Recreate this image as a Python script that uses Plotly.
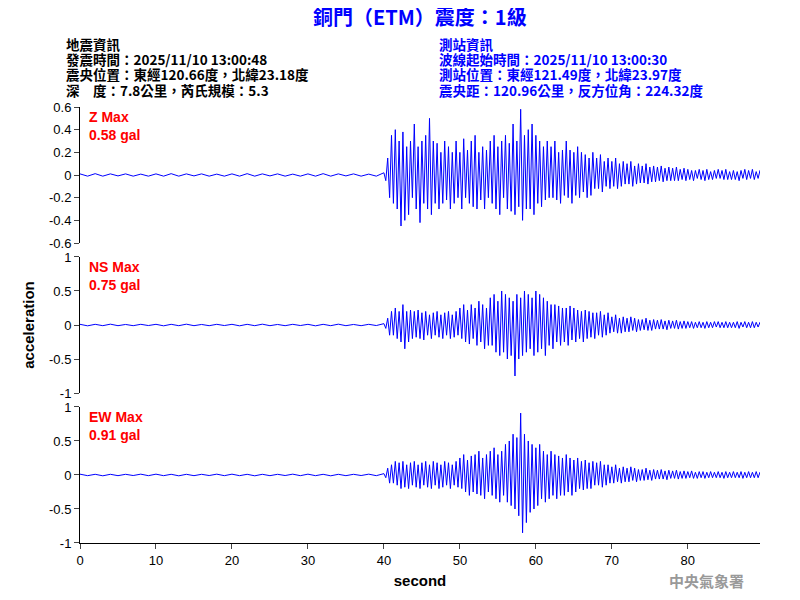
# %%
import numpy as np
import plotly.graph_objects as go
from plotly.subplots import make_subplots

# pre-event noise, 1 s steps, 0-39 s
pre_z = [0.01,-0.01,0.012,-0.01,0.01,-0.008,0.01,-0.01,0.008,-0.01]*4
pre_ns = [0.01,-0.012,0.01,-0.01,0.012,-0.01,0.008,-0.01,0.01,-0.008]*4
pre_ew = [0.012,-0.01,0.01,-0.012,0.01,-0.01,0.01,-0.008,0.012,-0.01]*4

# event part, 0.25 s steps, 40-90 s
ev_z = [0.02,-0.05,0.15,-0.2,0.35,-0.25,0.4,-0.3, 0.3,-0.45,0.38,-0.4,0.25,-0.35,0.3,-0.2,
        0.45,-0.3,0.25,-0.42,0.3,-0.25,0.35,-0.3, 0.5,-0.35,0.3,-0.25,0.28,-0.3,0.2,-0.25,
        0.3,-0.22,0.25,-0.3,0.2,-0.25,0.3,-0.2, 0.2,-0.3,0.32,-0.2,0.22,-0.25,0.3,-0.28,
        0.35,-0.3,0.2,-0.22,0.25,-0.3,0.22,-0.2, 0.3,-0.25,0.35,-0.3,0.25,-0.35,0.3,-0.2,
        0.35,-0.3,0.28,-0.32,0.45,-0.35,0.3,-0.28, 0.58,-0.4,0.35,-0.3,0.4,-0.3,0.45,-0.35,
        0.35,-0.25,0.3,-0.28,0.25,-0.22,0.3,-0.2, 0.25,-0.2,0.3,-0.22,0.2,-0.25,0.22,-0.18,
        0.3,-0.2,0.22,-0.25,0.2,-0.18,0.25,-0.2, 0.2,-0.15,0.18,-0.2,0.15,-0.18,0.2,-0.12,
        0.15,-0.12,0.18,-0.15,0.12,-0.1,0.15,-0.12, 0.12,-0.1,0.15,-0.12,0.1,-0.1,0.12,-0.08,
        0.1,-0.08,0.12,-0.1,0.08,-0.08,0.1,-0.07, 0.08,-0.07,0.1,-0.08,0.07,-0.06,0.08,-0.06,
        0.07,-0.05,0.08,-0.06,0.06,-0.05,0.07,-0.05, 0.06,-0.05,0.07,-0.05,0.05,-0.04,0.06,-0.05,
        0.05,-0.04,0.04,-0.05,0.04,-0.03,0.05,-0.04, 0.04,-0.05,0.05,-0.04,0.03,-0.04,0.04,-0.03,
        0.05,-0.03,0.04,-0.04,0.05,-0.04,0.03,-0.04, 0.04,-0.04,0.03,-0.05,0.04,-0.03,0.05,-0.04,
        0.04,-0.03,0.05,-0.04,0.03,-0.03,0.04,-0.04]
ev_ns = [0.02,-0.05,0.1,-0.15,0.2,-0.15,0.25,-0.2, 0.2,-0.25,0.3,-0.35,0.2,-0.25,0.22,-0.2,
         0.2,-0.18,0.22,-0.2,0.18,-0.22,0.2,-0.15, 0.15,-0.2,0.18,-0.15,0.2,-0.18,0.15,-0.2,
         0.18,-0.15,0.2,-0.2,0.15,-0.18,0.2,-0.15, 0.25,-0.2,0.3,-0.25,0.22,-0.28,0.3,-0.2,
         0.25,-0.3,0.35,-0.25,0.3,-0.35,0.25,-0.3, 0.4,-0.3,0.45,-0.4,0.35,-0.45,0.5,-0.4,
         0.45,-0.5,0.4,-0.45,0.35,-0.75,0.45,-0.5, 0.4,-0.45,0.5,-0.4,0.45,-0.35,0.4,-0.45,
         0.5,-0.4,0.45,-0.35,0.4,-0.45,0.35,-0.3, 0.3,-0.35,0.3,-0.25,0.28,-0.3,0.25,-0.25,
         0.25,-0.3,0.28,-0.22,0.25,-0.25,0.22,-0.2, 0.2,-0.25,0.22,-0.2,0.2,-0.18,0.18,-0.2,
         0.18,-0.15,0.2,-0.18,0.15,-0.15,0.18,-0.12, 0.12,-0.1,0.15,-0.12,0.1,-0.12,0.12,-0.1,
         0.1,-0.1,0.12,-0.08,0.1,-0.1,0.08,-0.08, 0.08,-0.07,0.1,-0.08,0.07,-0.08,0.08,-0.06,
         0.07,-0.06,0.08,-0.06,0.06,-0.07,0.07,-0.05, 0.06,-0.05,0.07,-0.06,0.05,-0.05,0.06,-0.05,
         0.05,-0.04,0.05,-0.05,0.04,-0.04,0.05,-0.04, 0.04,-0.05,0.05,-0.04,0.04,-0.04,0.05,-0.03,
         0.05,-0.04,0.04,-0.04,0.05,-0.04,0.04,-0.04, 0.04,-0.04,0.05,-0.05,0.04,-0.03,0.05,-0.04,
         0.04,-0.04,0.05,-0.04,0.04,-0.03,0.04,-0.04]
ev_ew = [0.02,-0.04,0.1,-0.12,0.15,-0.12,0.2,-0.15, 0.18,-0.2,0.2,-0.18,0.15,-0.2,0.18,-0.15,
         0.2,-0.18,0.15,-0.2,0.18,-0.15,0.2,-0.18, 0.15,-0.2,0.2,-0.15,0.18,-0.2,0.15,-0.18,
         0.2,-0.15,0.18,-0.2,0.15,-0.15,0.2,-0.18, 0.25,-0.2,0.3,-0.25,0.22,-0.3,0.28,-0.25,
         0.3,-0.28,0.35,-0.3,0.25,-0.35,0.3,-0.25, 0.35,-0.3,0.4,-0.35,0.3,-0.4,0.35,-0.3,
         0.45,-0.4,0.5,-0.45,0.6,-0.5,0.55,-0.6, 0.91,-0.85,0.6,-0.7,0.5,-0.55,0.45,-0.5,
         0.4,-0.45,0.45,-0.35,0.35,-0.4,0.3,-0.35, 0.35,-0.3,0.3,-0.35,0.28,-0.3,0.25,-0.3,
         0.3,-0.25,0.25,-0.3,0.22,-0.25,0.25,-0.2, 0.2,-0.22,0.22,-0.2,0.18,-0.2,0.2,-0.15,
         0.18,-0.15,0.2,-0.18,0.15,-0.15,0.15,-0.12, 0.12,-0.12,0.15,-0.1,0.1,-0.12,0.12,-0.1,
         0.1,-0.1,0.12,-0.08,0.1,-0.1,0.08,-0.08, 0.08,-0.08,0.1,-0.07,0.07,-0.08,0.08,-0.06,
         0.07,-0.06,0.08,-0.06,0.06,-0.07,0.07,-0.05, 0.06,-0.05,0.07,-0.06,0.05,-0.05,0.06,-0.05,
         0.05,-0.04,0.06,-0.05,0.04,-0.05,0.05,-0.04, 0.05,-0.05,0.04,-0.04,0.05,-0.04,0.04,-0.04,
         0.05,-0.04,0.04,-0.05,0.05,-0.04,0.04,-0.04, 0.05,-0.04,0.04,-0.04,0.05,-0.05,0.04,-0.04,
         0.05,-0.04,0.04,-0.04,0.05,-0.04,0.04,-0.04]

t = np.concatenate([np.arange(0, 40, 1.0), 40 + np.arange(len(ev_z)) * 0.25])
z = pre_z + ev_z
ns = pre_ns + ev_ns
ew = pre_ew + ev_ew

labels = ["<b>Z Max<br>0.58 gal</b>", "<b>NS Max<br>0.75 gal</b>", "<b>EW Max<br>0.91 gal</b>"]

fig = make_subplots(rows=3, cols=1, shared_xaxes=True, vertical_spacing=0.032)
for i, y in enumerate([z, ns, ew]):
    fig.add_trace(go.Scatter(x=t, y=y, mode="lines", line=dict(color="blue", width=1),
                             showlegend=False), row=i+1, col=1)
    fig.add_annotation(text=labels[i], xref="x domain" if i == 0 else f"x{i+1} domain",
                       yref="y domain" if i == 0 else f"y{i+1} domain", x=0.01, y=1.0,
                       xanchor="left", yanchor="top", showarrow=False, align="left",
                       font=dict(color="red", size=14, family="Liberation Sans"))

axfont = dict(family="Liberation Sans", size=13, color="black")
fig.update_xaxes(range=[0, 89.5], showline=False, ticks="", showticklabels=False, showgrid=False,
                 zeroline=False, automargin=False)
fig.update_xaxes(row=3, col=1, showline=True, linecolor="black", ticks="outside", showticklabels=True,
                 tickvals=[0, 10, 20, 30, 40, 50, 60, 70, 80], tickfont=axfont,
                 title=dict(text="<b>second</b>", font=dict(family="Liberation Sans", size=15, color="black"),
                            standoff=8))
fig.update_yaxes(showline=True, linecolor="black", ticks="outside", showgrid=False, zeroline=False,
                 tickfont=axfont, automargin=False)
fig.update_yaxes(row=1, col=1, range=[-0.6, 0.6], tickvals=[-0.6, -0.4, -0.2, 0, 0.2, 0.4, 0.6],
                 ticktext=["-0.6", "-0.4", "-0.2", "0", "0.2", "0.4", "0.6"])
for r in [2, 3]:
    fig.update_yaxes(row=r, col=1, range=[-1, 1], tickvals=[-1, -0.5, 0, 0.5, 1],
                     ticktext=["-1", "-0.5", "0", "0.5", "1"])
fig.update_yaxes(row=2, col=1, title=dict(text="<b>acceleration</b>",
                 font=dict(family="Liberation Sans", size=15, color="black"), standoff=10))

cjk = "Noto Sans CJK TC"
left = ["地震資訊", "發震時間：2025/11/10 13:00:48", "震央位置：東經120.66度，北緯23.18度", "深　度：7.8公里，芮氏規模：5.3"]
right = ["測站資訊", "波線起始時間：2025/11/10 13:00:30", "測站位置：東經121.49度，北緯23.97度", "震央距：120.96公里，反方位角：224.32度"]
ys = [1.144, 1.110, 1.075, 1.039]
for txt, yy in zip(left, ys):
    fig.add_annotation(text="<b>" + txt + "</b>", xref="paper", yref="paper", x=-0.023, y=yy,
                       xanchor="left", yanchor="middle", showarrow=False,
                       font=dict(family=cjk, size=13.5, color="black"))
for txt, yy in zip(right, ys):
    fig.add_annotation(text="<b>" + txt + "</b>", xref="paper", yref="paper", x=0.525, y=yy,
                       xanchor="left", yanchor="middle", showarrow=False,
                       font=dict(family=cjk, size=13.5, color="blue"))
fig.add_annotation(text="<b>銅門（ETM）震度：1級</b>", xref="paper", yref="paper", x=0.5, y=1.207,
                   xanchor="center", yanchor="middle", showarrow=False, font=dict(family=cjk, size=20, color="blue"))
fig.add_annotation(text="<b>中央氣象署</b>", xref="paper", yref="paper", x=0.98, y=-0.085,
                   xanchor="right", yanchor="middle", showarrow=False, font=dict(family=cjk, size=15, color="#999999"))

# page body adds an 8px offset, so the margins are shifted to compensate
fig.update_layout(width=800, height=600, margin=dict(l=72, r=48, t=99, b=65, autoexpand=False),
                  plot_bgcolor="white", paper_bgcolor="white")
fig.write_html("out.html")
